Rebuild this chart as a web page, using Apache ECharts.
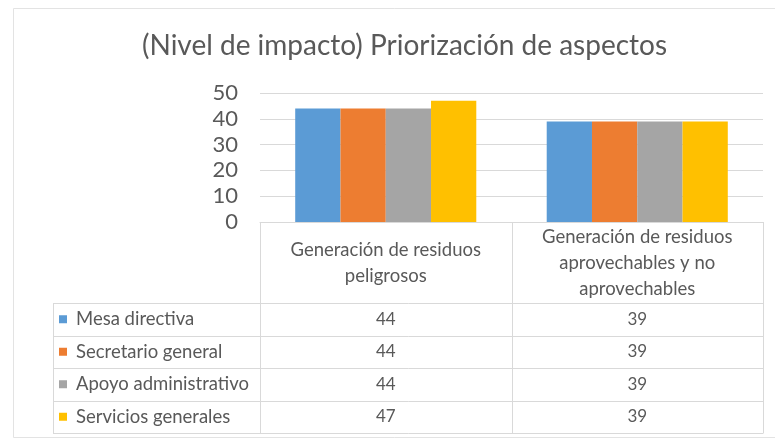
<!DOCTYPE html>
<html><head><meta charset="utf-8">
<script src="https://cdn.jsdelivr.net/npm/echarts@6/dist/echarts.min.js"></script>
<style>html,body{margin:0;padding:0;background:#fff}#c{width:775px;height:443px}</style>
</head><body><div id="c"></div>
<script>
// ---- data ----
const chartTitle = '(Nivel de impacto) Priorización de aspectos';
const categories = ['Generación de residuos\npeligrosos', 'Generación de residuos\naprovechables y no\naprovechables'];
const seriesNames = ['Mesa directiva', 'Secretario general', 'Apoyo administrativo', 'Servicios generales'];
const mesaDirectiva = [44, 39];
const secretarioGeneral = [44, 39];
const apoyoAdministrativo = [44, 39];
const serviciosGenerales = [47, 39];
const yTickValues = [0, 10, 20, 30, 40, 50];

// ---- style ----
const seriesValues = [mesaDirectiva, secretarioGeneral, apoyoAdministrativo, serviciosGenerales];
const colors = ['#5b9bd5', '#ed7d31', '#a5a5a5', '#ffc000'];
const FONT = 'Lato';
const TXT = '#595959';
const LINE = '#d9d9d9';

const chart = echarts.init(document.getElementById('c'), null, { renderer: 'canvas' });

const option = {
  animation: false,
  backgroundColor: '#fff',
  textStyle: { fontFamily: FONT },
  title: {
    text: chartTitle, left: 137, top: 27,
    textStyle: { fontFamily: FONT, fontSize: 28, fontWeight: 'normal', color: TXT }
  },
  grid: { left: 260, right: 12, top: 93, bottom: 221, containLabel: false },
  xAxis: {
    type: 'category', data: categories,
    axisLine: { show: true, lineStyle: { color: LINE, width: 1 } },
    axisTick: { show: false }, axisLabel: { show: false }, splitLine: { show: false }
  },
  yAxis: {
    type: 'value', min: yTickValues[0], max: yTickValues[yTickValues.length - 1], interval: 10,
    axisLine: { show: false }, axisTick: { show: false },
    axisLabel: { color: TXT, fontSize: 22, fontFamily: FONT, margin: 22 },
    splitLine: { lineStyle: { color: LINE, width: 1 } }
  },
  series: seriesNames.map((n, i) => ({
    name: n, type: 'bar', data: seriesValues[i], barGap: 0, barCategoryGap: '28%',
    itemStyle: { color: colors[i] }
  }))
};
chart.setOption(option);

// ---- data table drawn beneath the axis ----
const c0 = chart.convertToPixel({ xAxisIndex: 0 }, 0);
const c1 = chart.convertToPixel({ xAxisIndex: 0 }, 1);
const band = c1 - c0;
const colX = [c0 - band / 2, (c0 + c1) / 2, c1 + band / 2];
const centers = [c0, c1];
const y0 = chart.convertToPixel({ yAxisIndex: 0 }, 0);
const headerBottom = 303;
const rowH = 32.5;
const tableBottom = headerBottom + rowH * seriesNames.length;
const tableLeft = 53;

const g = [];
const ln = (x1, y1, x2, y2) => g.push({ type: 'line', shape: { x1, y1, x2, y2 }, style: { stroke: LINE, lineWidth: 1 }, silent: true });
// outer chart border
g.push({ type: 'rect', shape: { x: 13.5, y: 8.5, width: 800, height: 429 }, style: { fill: null, stroke: '#e3e3e3', lineWidth: 1 }, silent: true, z: -1 });
// vertical lines
colX.forEach(x => ln(Math.round(x) + 0.5, y0, Math.round(x) + 0.5, tableBottom));
ln(tableLeft + 0.5, headerBottom, tableLeft + 0.5, tableBottom);
// horizontal lines
for (let r = 0; r <= seriesNames.length; r++) {
  const y = Math.round(headerBottom + r * rowH) + 0.5;
  ln(tableLeft, y, colX[2] + 0.5, y);
}
// header texts
categories.forEach((t, i) => g.push({
  type: 'text', x: centers[i], y: (y0 + headerBottom) / 2 + 1,
  style: { text: t, fill: TXT, font: '18.5px ' + FONT, align: 'center', verticalAlign: 'middle', lineHeight: 26 }
}));
// rows
seriesNames.forEach((n, r) => {
  const yc = headerBottom + r * rowH + rowH / 2;
  g.push({ type: 'rect', shape: { x: 59, y: yc - 4, width: 8, height: 8 }, style: { fill: colors[r] } });
  g.push({ type: 'text', x: 76, y: yc, style: { text: n, fill: TXT, font: '18.5px ' + FONT, align: 'left', verticalAlign: 'middle' } });
  seriesValues[r].forEach((v, i) => g.push({
    type: 'text', x: centers[i], y: yc,
    style: { text: String(v), fill: TXT, font: '17px ' + FONT, align: 'center', verticalAlign: 'middle' }
  }));
});
chart.setOption({ graphic: g });
</script>
</body></html>
